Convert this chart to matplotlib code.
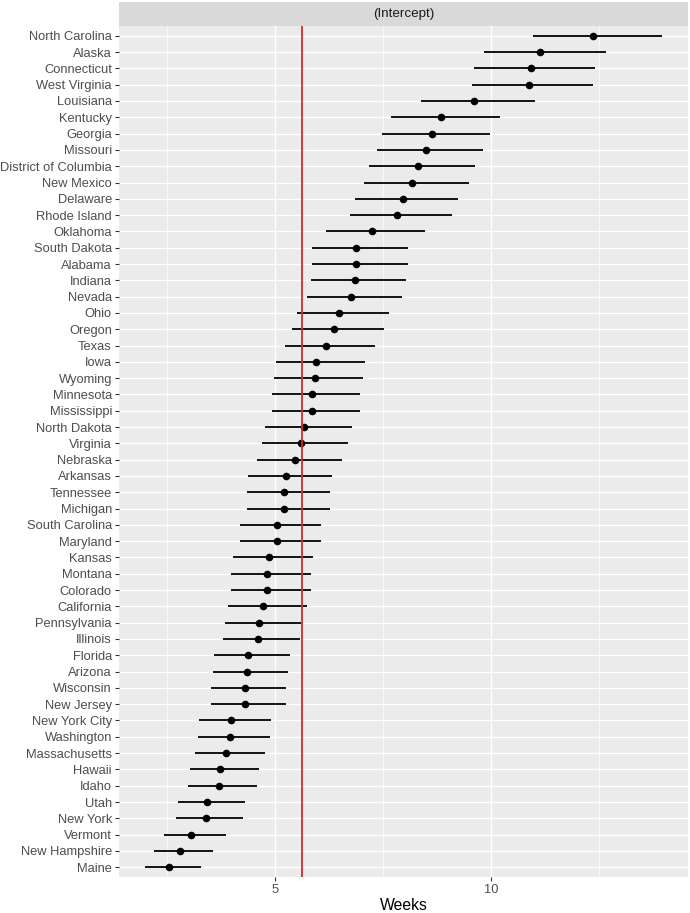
import numpy as np
import matplotlib
matplotlib.use('Agg')
import matplotlib.pyplot as plt
from matplotlib.ticker import FixedLocator, NullFormatter

plt.rcParams['font.family'] = ['Liberation Sans', 'DejaVu Sans']

# estimates, weeks (log axis), top row first
states = [
    'North Carolina', 'Alaska', 'Connecticut', 'West Virginia', 'Louisiana',
    'Kentucky', 'Georgia', 'Missouri', 'District of Columbia', 'New Mexico',
    'Delaware', 'Rhode Island', 'Oklahoma', 'South Dakota', 'Alabama',
    'Indiana', 'Nevada', 'Ohio', 'Oregon', 'Texas', 'Iowa', 'Wyoming',
    'Minnesota', 'Mississippi', 'North Dakota', 'Virginia', 'Nebraska',
    'Arkansas', 'Tennessee', 'Michigan', 'South Carolina', 'Maryland',
    'Kansas', 'Montana', 'Colorado', 'California', 'Pennsylvania', 'Illinois',
    'Florida', 'Arizona', 'Wisconsin', 'New Jersey', 'New York City',
    'Washington', 'Massachusetts', 'Hawaii', 'Idaho', 'Utah', 'New York',
    'Vermont', 'New Hampshire', 'Maine',
]
estimate = [
    13.86, 11.70, 11.34, 11.29, 9.47, 8.51, 8.26, 8.10, 7.90, 7.76,
    7.53, 7.39, 6.82, 6.48, 6.48, 6.45, 6.37, 6.14, 6.03, 5.88,
    5.70, 5.67, 5.63, 5.63, 5.49, 5.43, 5.33, 5.17, 5.14, 5.14,
    5.02, 5.02, 4.90, 4.87, 4.87, 4.81, 4.75, 4.73, 4.58, 4.56,
    4.53, 4.53, 4.34, 4.32, 4.27, 4.19, 4.17, 4.02, 4.00, 3.82,
    3.68, 3.56,
]
lower = [
    11.42, 9.75, 9.46, 9.41, 7.99, 7.25, 7.04, 6.92, 6.76, 6.64,
    6.45, 6.35, 5.89, 5.63, 5.63, 5.60, 5.54, 5.36, 5.27, 5.16,
    5.01, 4.98, 4.95, 4.95, 4.84, 4.79, 4.72, 4.58, 4.56, 4.56,
    4.46, 4.46, 4.37, 4.34, 4.34, 4.30, 4.25, 4.23, 4.11, 4.09,
    4.07, 4.07, 3.92, 3.90, 3.86, 3.80, 3.78, 3.66, 3.64, 3.50,
    3.39, 3.29,
]
upper = [
    17.29, 14.44, 13.96, 13.86, 11.50, 10.27, 9.94, 9.73, 9.49, 9.30,
    8.99, 8.81, 8.08, 7.66, 7.66, 7.61, 7.51, 7.21, 7.08, 6.89,
    6.66, 6.62, 6.57, 6.57, 6.40, 6.31, 6.19, 5.99, 5.95, 5.95,
    5.79, 5.79, 5.64, 5.60, 5.60, 5.53, 5.43, 5.41, 5.24, 5.20,
    5.17, 5.17, 4.93, 4.91, 4.84, 4.74, 4.71, 4.53, 4.50, 4.27,
    4.10, 3.94,
]
ref_line = 5.44
x_breaks = [5, 10]
strip_label = '(Intercept)'
x_title = 'Weeks'

W, H = 690, 913
fig = plt.figure(figsize=(W / 100, H / 100), dpi=100)

left, right, top, bottom = 119, 688, 26, 877
ax = fig.add_axes([left / W, (H - bottom) / H, (right - left) / W, (bottom - top) / H])
strip = fig.add_axes([left / W, (H - top) / H, (right - left) / W, 24 / H])

# strip
strip.set_facecolor('#D9D9D9')
strip.set_xticks([])
strip.set_yticks([])
for s in strip.spines.values():
    s.set_visible(False)
strip.text(0.5, 0.5, strip_label, ha='center', va='center', fontsize=9.6,
           color='#1A1A1A', transform=strip.transAxes)

# panel
ax.set_facecolor('#EBEBEB')
for s in ax.spines.values():
    s.set_visible(False)
ax.set_xscale('log')

y = np.arange(len(states))
lo = np.log10(min(lower))
hi = np.log10(max(upper))
pad = 0.05 * (hi - lo)
ax.set_xlim(10 ** (lo - pad), 10 ** (hi + pad))
ax.set_ylim(len(states) - 0.4, -0.6)

# minor breaks halfway in log space, as ggplot does
minor = [5 / np.sqrt(2), 5 * np.sqrt(2), 10 * np.sqrt(2)]
ax.xaxis.set_major_locator(FixedLocator(x_breaks))
ax.xaxis.set_minor_locator(FixedLocator(minor))
ax.xaxis.set_minor_formatter(NullFormatter())
ax.set_xticklabels([str(b) for b in x_breaks])
ax.set_yticks(y)
ax.set_yticklabels(states)

ax.grid(which='major', color='white', lw=1.0)
ax.grid(which='minor', axis='x', color='white', lw=0.5)
ax.set_axisbelow(True)

ax.tick_params(axis='both', which='major', length=2.9, width=0.8, color='#333333',
               labelcolor='#4D4D4D', labelsize=9.3, pad=2.2)
ax.tick_params(axis='x', which='minor', length=0)

ax.hlines(y, lower, upper, color='black', lw=1.3, zorder=3)
ax.scatter(estimate, y, s=30, color='black', zorder=4, linewidths=0)
ax.axvline(ref_line, color='#D42A2A', lw=1.3, zorder=5)

# axis title placed by hand so it stays inside the canvas
fig.text((left + right) / 2 / W, 1 - 905 / H, x_title, ha='center', va='center',
         fontsize=11.3, color='black')

fig.savefig('out.png', dpi=100)
